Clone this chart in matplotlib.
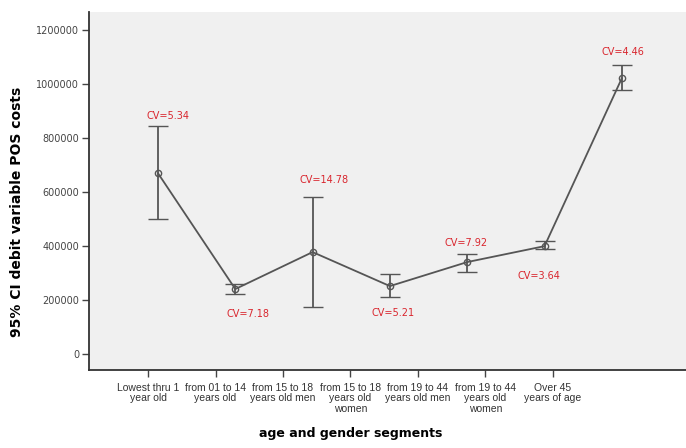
import numpy as np
import matplotlib.pyplot as plt

# Values (mean and 95% CI bounds)
segments = ['Lowest thru 1\nyear old', 'from 01 to 14\nyears old', 'from 15 to 18\nyears old men',
            'from 15 to 18\nyears old\nwomen', 'from 19 to 44\nyears old men', 'from 19 to 44\nyears old\nwomen',
            'Over 45\nyears of age']
means = [670000, 241000, 378000, 252000, 341000, 400000, 1022000]
upper = [844000, 259000, 581000, 296000, 370000, 419000, 1070000]
lower = [500000, 222000, 174000, 211000, 304000, 389000, 978000]
cv_labels = ['CV=5.34', 'CV=7.18', 'CV=14.78', 'CV=5.21', 'CV=7.92', 'CV=3.64', 'CV=4.46']
cv_above = [True, False, True, False, True, False, True]
y_ticks = [0, 200000, 400000, 600000, 800000, 1000000, 1200000]

# label offsets from the cap, in pixels (layout only)
cv_offsets = [(10, 10), (13, -20), (11, 17), (3, -16), (-1, 11), (-6, -27), (1, 13)]

x = np.arange(len(means))
means = np.array(means)
yerr = [means - np.array(lower), np.array(upper) - means]

fig = plt.figure(figsize=(6.86, 4.48), dpi=100)
ax = fig.add_axes([0.1297, 0.174, 0.8703, 0.799])
ax.set_facecolor('#f0f0f0')

ax.errorbar(x, means, yerr=yerr, color='#555555', lw=1.3, capsize=7, capthick=1.3,
            marker='o', ms=4.5, mfc='none', mec='#555555', mew=1.0)

# CV annotations next to the upper or lower cap
for i, lab in enumerate(cv_labels):
    anchor = upper[i] if cv_above[i] else lower[i]
    dx, dy = cv_offsets[i]
    ax.annotate(lab, (x[i], anchor), xytext=(dx * 0.72, dy * 0.72), textcoords='offset points',
                ha='center', va='center', color='#d9262e', fontsize=7)

ax.set_xlim(-0.893, 6.83)
ax.set_ylim(-59000, 1267000)
ax.set_yticks(y_ticks)
ax.set_yticklabels([str(v) for v in y_ticks], fontsize=7, color='#444444')
# category ticks sit slightly offset from the points, as in the source
ax.set_xticks(-0.129 + 0.873 * x)
ax.set_xticklabels(segments, fontsize=7.5, family='Liberation Sans', color='#333333',
                   linespacing=1.1)
ax.tick_params(axis='x', length=5, width=1, color='#444444', pad=4)
ax.tick_params(axis='y', length=5, width=1, color='#444444', pad=2)

for s in ['top', 'right']:
    ax.spines[s].set_visible(False)
for s in ['left', 'bottom']:
    ax.spines[s].set_color('#333333')
    ax.spines[s].set_linewidth(1.3)

ax.set_ylabel('95% CI debit variable POS costs', fontsize=10, fontweight='bold')
ax.yaxis.set_label_coords(-0.109, 0.441)
ax.set_xlabel('age and gender segments', fontsize=9, fontweight='bold', labelpad=12)
ax.xaxis.set_label_coords(0.439, -0.16)

plt.savefig('out.png', dpi=100)
